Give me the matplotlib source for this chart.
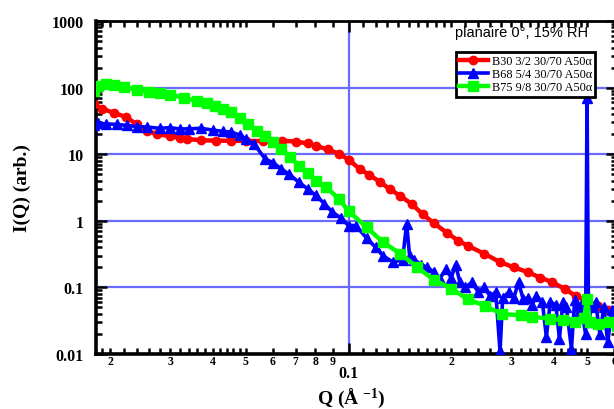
import numpy as np
import matplotlib
matplotlib.use('Agg')
from matplotlib import pyplot as plt
from matplotlib.ticker import FixedLocator, NullFormatter

# B30 3/2 30/70 A50a  (red, circles)
q_red = [0.0180, 0.0190, 0.0205, 0.0223, 0.0240, 0.0256, 0.0275, 0.0299, 0.0320,
         0.0336, 0.0370, 0.0410, 0.0452, 0.0500, 0.0560, 0.0637, 0.0700, 0.0760,
         0.0803, 0.0870, 0.0940, 0.1000, 0.1078, 0.1150, 0.1237, 0.1320, 0.1418,
         0.1530, 0.1650, 0.1780, 0.1950, 0.2100, 0.2240, 0.2500, 0.2780, 0.3050,
         0.3350, 0.3650, 0.3950, 0.4300, 0.4640, 0.5000, 0.5400, 0.5750, 0.6100]
i_red = [56, 48, 42, 36, 28, 22.5, 20, 18.7, 17.5,
         16.9, 16.2, 16.0, 15.9, 15.8, 15.8, 15.9, 15.5, 14.5,
         13.3, 11.8, 10.1, 8.3, 6.0, 4.9, 3.83, 3.0, 2.36,
         1.8, 1.25, 0.92, 0.65, 0.50, 0.42, 0.32, 0.24, 0.20,
         0.17, 0.14, 0.12, 0.095, 0.074, 0.062, 0.053, 0.045, 0.040]

# B68 5/4 30/70 A50a  (blue, triangles)
q_blue = [0.0180, 0.0185, 0.0195, 0.0210, 0.0225, 0.0240, 0.0256, 0.0280, 0.0300,
          0.0320, 0.0340, 0.0370, 0.0400, 0.0430, 0.0452, 0.0480, 0.0500, 0.0530,
          0.0570, 0.0600, 0.0636, 0.0670, 0.0715, 0.0760, 0.0803, 0.0850, 0.0896,
          0.0950, 0.1000, 0.1050, 0.1130, 0.1200, 0.1260, 0.1350, 0.1440, 0.1480,
          0.1510, 0.1560, 0.1630, 0.1700, 0.1780, 0.1850, 0.1930, 0.2000, 0.2060,
          0.2120, 0.2200, 0.2300, 0.2400, 0.2500, 0.2600, 0.2700, 0.2780, 0.2830,
          0.2950, 0.3050, 0.3150, 0.3250, 0.3350, 0.3450, 0.3550, 0.3700, 0.3800,
          0.3900, 0.4050, 0.4150, 0.4250, 0.4350, 0.4500, 0.4600, 0.4700, 0.4800,
          0.4950, 0.5000, 0.5050, 0.5150, 0.5300, 0.5450, 0.5600, 0.5750, 0.5900,
          0.6100]
i_blue = [27, 29, 28.5, 28, 27, 26, 25.6, 24.5, 25,
          24, 24, 24.5, 23, 22, 21.5, 19.5, 17, 14,
          8.5, 7.5, 6.0, 5.0, 3.8, 3.0, 2.4, 1.8, 1.36,
          1.1, 0.85, 0.85, 0.55, 0.40, 0.30, 0.24, 0.26, 0.9,
          0.30, 0.26, 0.22, 0.20, 0.17, 0.134, 0.19, 0.14, 0.22,
          0.12, 0.10, 0.12, 0.085, 0.10, 0.074, 0.085, 0.011, 0.07,
          0.085, 0.07, 0.12, 0.066, 0.07, 0.055, 0.075, 0.06, 0.018,
          0.06, 0.055, 0.017, 0.06, 0.05, 0.012, 0.065, 0.04, 0.055,
          0.02, 70, 0.03, 0.05, 0.06, 0.02, 0.05, 0.015, 0.045,
          0.03]

# B75 9/8 30/70 A50a  (green, squares)
q_green = [0.0180, 0.0185, 0.0195, 0.0205, 0.0220, 0.0240, 0.0260, 0.0280, 0.0300,
           0.0330, 0.0360, 0.0385, 0.0405, 0.0430, 0.0452, 0.0480, 0.0507, 0.0540,
           0.0570, 0.0600, 0.0636, 0.0675, 0.0715, 0.0760, 0.0803, 0.0860, 0.0940,
           0.1000, 0.1130, 0.1260, 0.1420, 0.1590, 0.1780, 0.2000, 0.2240, 0.2510,
           0.2810, 0.3200, 0.3460, 0.3900, 0.4240, 0.4600, 0.4900, 0.5000, 0.5100,
           0.5400, 0.5800, 0.6100]
i_green = [90, 105, 112, 110, 103, 92, 86, 82, 78,
           70, 63, 58, 53, 48, 43, 35, 28, 22.5,
           18.7, 15, 12, 9, 6.7, 5.2, 4.0, 3.2, 2.1,
           1.4, 0.80, 0.48, 0.32, 0.20, 0.13, 0.096, 0.066, 0.053,
           0.040, 0.038, 0.036, 0.034, 0.032, 0.030, 0.035, 0.066, 0.030,
           0.028, 0.030, 0.026]

labels = ['B30 3/2 30/70 A50\u03b1', 'B68 5/4 30/70 A50\u03b1', 'B75 9/8 30/70 A50\u03b1']
y_ticks = [0.01, 0.1, 1, 10, 100, 1000]
y_ticklabels = ['0.01', '0.1', '1', '10', '100', '1000']

plt.rcParams['font.family'] = 'Liberation Serif'
plt.rcParams['font.weight'] = 'bold'
plt.rcParams['mathtext.fontset'] = 'custom'
plt.rcParams['mathtext.rm'] = 'Liberation Serif:bold'
plt.rcParams['mathtext.it'] = 'Liberation Serif:bold'

fig = plt.figure(figsize=(6.14, 4.10), dpi=100)
ax = fig.add_axes([96/614, 55/410, 521/614, 333/410])

ax.plot(q_red, i_red, '-o', color='#ff0000', lw=3.2, ms=6, label=labels[0], zorder=3)
ax.plot(q_blue, i_blue, '-^', color='#0000ff', lw=2.6, ms=6.5, label=labels[1], zorder=4)
ax.plot(q_green, i_green, '-s', color='#00ff00', lw=3.2, ms=6.5, label=labels[2], zorder=5)

ax.set_xscale('log')
ax.set_yscale('log')

ax.grid(True, which='major', color='#6a6aff', lw=1.6)
ax.set_axisbelow(True)

# y ticks
ax.set_yticks(y_ticks, y_ticklabels)
ax.yaxis.set_minor_locator(FixedLocator([m * 10.0**e for e in range(-2, 3) for m in range(2, 10)]))
ax.yaxis.set_minor_formatter(NullFormatter())

# x ticks: 0.1 major, labelled minors 2..9 and small unlabelled ones
ax.set_xticks([0.1], ['0.1'])
minor_pos, minor_lab = [], []
for dec in [0.01, 0.1]:
    for m in [1.1, 1.2, 1.3, 1.4, 1.5, 1.6, 1.7, 1.8, 1.9,
              2, 2.2, 2.4, 2.6, 2.8, 3, 3.2, 3.4, 3.6, 3.8, 4, 4.2, 4.4, 4.6, 4.8,
              5, 6, 7, 8, 9]:
        minor_pos.append(m * dec)
        minor_lab.append(str(m) if m == int(m) else '')
ax.set_xticks(minor_pos, minor_lab, minor=True)

ax.set_xlim(0.0182, 0.612)
ax.set_ylim(0.01, 1000)

ax.tick_params(which='both', direction='in', top=True, right=True, width=1.8, color='black')
ax.tick_params(which='major', length=8)
ax.tick_params(which='minor', length=4)
ax.tick_params(axis='y', which='major', labelsize=11.5, pad=9)
ax.tick_params(axis='x', which='major', labelsize=11.5, pad=8)
ax.tick_params(axis='x', which='minor', labelsize=8.5, pad=1)

for side in ['left', 'bottom']:
    ax.spines[side].set_linewidth(2.6)
for side in ['top', 'right']:
    ax.spines[side].set_linewidth(2.0)

ax.set_ylabel('I(Q) (arb.)', fontsize=14, fontweight='bold')
ax.yaxis.set_label_coords(-0.125, 0.5)
ax.set_xlabel('Q (\u00c5 $^{-1}$)', fontsize=14, fontweight='bold')
ax.xaxis.set_label_coords(0.49, -0.094)

ax.text(0.944, 0.967, 'planaire 0\u00b0, 15% RH', transform=ax.transAxes,
        ha='right', va='center', fontsize=10.5, fontweight='normal', family='Liberation Sans')

leg = ax.legend(loc='upper right', bbox_to_anchor=(0.958, 0.907), fancybox=False,
                framealpha=1, edgecolor='black', prop={'size': 8.8, 'weight': 'normal'},
                handlelength=2.4, borderpad=0.25, labelspacing=0.1, handletextpad=0.3,
                borderaxespad=0)
leg.get_frame().set_linewidth(2.0)

fig.savefig('out.png', dpi=100)
